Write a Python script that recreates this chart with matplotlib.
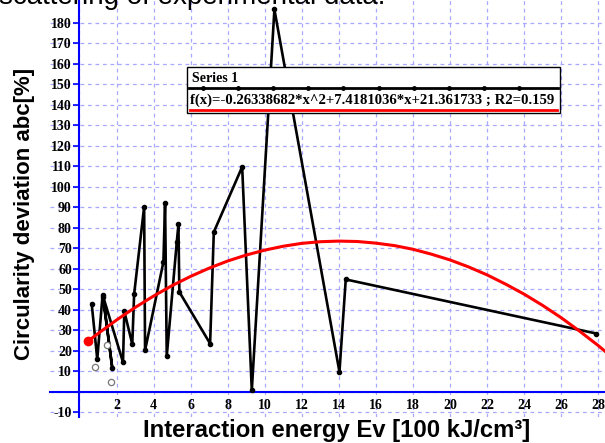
import matplotlib
matplotlib.use("Agg")
import matplotlib.pyplot as plt
from matplotlib.patches import Rectangle
from matplotlib.lines import Line2D

# measured series, in plotting order (line joins them as drawn)
energy = [0.66, 0.96, 1.25, 1.77, 1.28, 2.35, 2.42, 2.85, 2.95, 3.49, 3.54,
          4.53, 4.62, 4.71, 5.25, 5.34, 5.39, 7.05, 7.25, 8.78, 9.30, 10.52,
          14.03, 14.37, 27.9]
deviation = [43, 16, 47.5, 11.7, 46.5, 14.5, 39.4, 23.3, 47.7, 90.3, 20.3,
             63.4, 92.4, 17.4, 73, 81.7, 48.8, 23.6, 78, 109.8, 0.8, 186.6,
             9.8, 54.9, 28.5]

# open circles
extra_x = [0.85, 1.47, 1.68]
extra_y = [12.2, 23.0, 4.7]

# red trend curve
fit_x = [0.48, 1, 2, 3, 4, 5, 6, 7, 8, 9, 10, 11, 12, 13, 14, 15, 16, 17,
         18, 19, 20, 21, 22, 23, 24, 25, 26, 27, 28, 28.5]
fit_y = [24.9, 28.5, 35.1, 41.2, 46.8, 51.9, 56.4, 60.4, 63.9, 66.8, 69.2,
         71.1, 72.5, 73.3, 73.6, 73.4, 72.6, 71.4, 69.6, 67.2, 64.4, 61.0,
         57.1, 52.6, 47.7, 42.2, 36.2, 29.6, 22.6, 18.8]

xticks = [0, 2, 4, 6, 8, 10, 12, 14, 16, 18, 20, 22, 24, 26, 28]
xtick_labels = [''] + [str(v) for v in xticks[1:]]
yticks = list(range(-10, 190, 10))
ytick_labels = ['' if v == 0 else str(v) for v in yticks]

series_name = "Series 1"
fit_text = "f(x)=-0.26338682*x^2+7.4181036*x+21.361733 ; R2=0.159"

W, H = 605, 443
fig = plt.figure(figsize=(W / 100, H / 100), dpi=100)


def fx(px):
    return px / W


def fy(py):
    return 1 - py / H


ax = fig.add_axes([fx(50), fy(417), fx(555), 417 / H])
ax.set_xlim(-1.59, 28.36)
ax.set_ylim(-12.2, 191.2)

for side in ['top', 'right']:
    ax.spines[side].set_visible(False)
for side in ['left', 'bottom']:
    ax.spines[side].set_position(('data', 0))
    ax.spines[side].set_color('#0000ff')
    ax.spines[side].set_linewidth(1.5)

tick_font = dict(fontfamily='Liberation Serif', fontweight='bold', fontsize=10)
ax.set_xticks(xticks, labels=xtick_labels, **tick_font)
ax.set_yticks(yticks, labels=ytick_labels, **tick_font)
ax.tick_params(axis='y', direction='out', length=4, width=1.2, color='#0000ff', pad=1.5)
ax.tick_params(axis='x', direction='out', length=0, pad=5)

ax.grid(True, color='#a8a8ff', linestyle=(0, (3, 3)), linewidth=0.9)
ax.set_axisbelow(True)

ax.plot(energy, deviation, color='black', lw=1.9, marker='o', ms=3, zorder=3)
ax.plot(extra_x, extra_y, ls='none', marker='o', ms=4.5, mfc='white',
        mec='#777777', mew=0.9, zorder=3)
ax.plot(fit_x, fit_y, color='#ff0000', lw=2.2, zorder=4)
ax.plot(fit_x[:1], fit_y[:1], color='#ff0000', marker='o', ms=6, zorder=4)

# legend box
fig.patches.append(Rectangle((fx(187), fy(113)), fx(560) - fx(187), fy(67) - fy(113),
                             transform=fig.transFigure, facecolor='white',
                             edgecolor='black', lw=1, zorder=5))
fig.text(fx(192), fy(82), series_name, fontfamily='Liberation Serif',
         fontweight='bold', fontsize=10, va='baseline', zorder=6)
fig.lines.append(Line2D([fx(189), fx(558)], [fy(87.5), fy(87.5)],
                        transform=fig.transFigure, color='black', lw=2, zorder=6))
fig.lines.append(Line2D([fx(203 + 35.1 * k) for k in range(10)], [fy(87.5)] * 10,
                        transform=fig.transFigure, ls='none', marker='o', ms=2.5,
                        color='black', zorder=6))
fig.text(fx(190), fy(104), fit_text, fontfamily='Liberation Serif',
         fontweight='bold', fontsize=10.6, va='baseline', zorder=6)
fig.lines.append(Line2D([fx(190), fx(557)], [fy(109.5), fy(109.5)],
                        transform=fig.transFigure, color='#ff0000', lw=2, zorder=6))

fig.text(-0.002, fy(3.5), "scattering of experimental data.", fontfamily='Liberation Sans',
         fontsize=20, va='baseline')
fig.text(fx(25), fy(214), "Circularity deviation abc[%]", rotation=90,
         fontfamily='Liberation Sans', fontweight='bold', fontsize=16,
         ha='center', va='center')
fig.text(fx(337), fy(430), "Interaction energy Ev [100 kJ/cm³]",
         fontfamily='Liberation Sans', fontweight='bold', fontsize=17.2,
         ha='center', va='center')

fig.savefig('out.png', dpi=100)
